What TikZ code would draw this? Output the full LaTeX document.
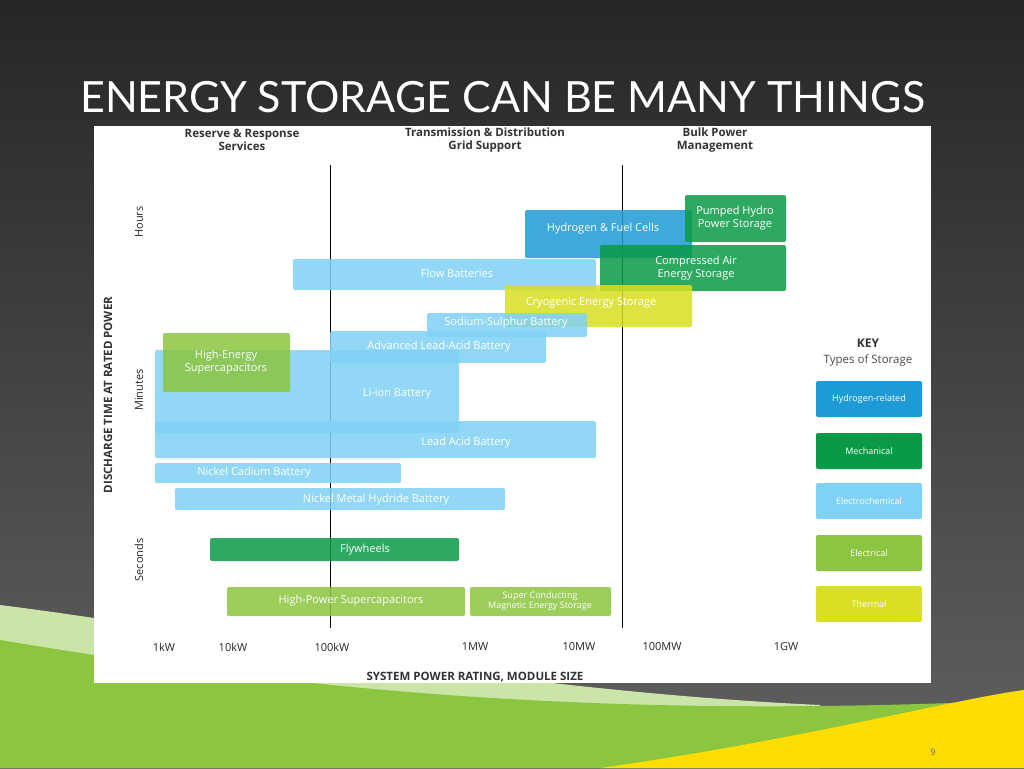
\documentclass[tikz,border=0pt]{standalone}
\usepackage{fontspec}
\setmainfont{Open Sans}
\newfontfamily\titlefont{Lato}
\begin{document}
\begin{tikzpicture}[x=1pt,y=-1pt,
  bx/.style={fill=#1,draw=none,fill opacity=0.85,rounded corners=2pt},
  lb/.style={text=white,font=\fontsize{11}{12.5}\selectfont,align=center,inner sep=0pt},
  hd/.style={text=black!80,font=\bfseries\fontsize{11.5}{13.5}\selectfont,align=center},
  ax/.style={text=black!85,font=\fontsize{11}{13}\selectfont}]
\definecolor{hyd}{HTML}{1E9AD6}\definecolor{mech}{HTML}{0A9A46}
\definecolor{elc}{HTML}{7FD2F5}\definecolor{ele}{HTML}{8CC53F}\definecolor{thm}{HTML}{D8E021}
\useasboundingbox (0,0) rectangle (1024,768);
\shade[top color=black!85,bottom color=black!62] (0,0) rectangle (1024,768);
\fill[ele!45!white] (0,605) .. controls (200,630) and (500,690) .. (820,705) -- (820,768) -- (0,768) -- cycle;
\fill[ele] (0,640) .. controls (300,690) and (600,720) .. (1024,700) -- (1024,768) -- (0,768) -- cycle;
\fill[yellow!80!orange] (600,768) .. controls (800,740) and (950,700) .. (1024,690) -- (1024,768) -- cycle;
\node[text=white,font=\titlefont\fontsize{43}{46}\selectfont,anchor=west,inner sep=0pt] (title) at (80,97) {ENERGY STORAGE CAN BE MANY THINGS};
\node[text=black!60,font=\fontsize{9}{10}\selectfont] (pg) at (933,752) {9};
\fill[white] (94,126) rectangle (931,683);
\node[hd] (h1) at (242,140) {Reserve \& Response\\Services};
\node[hd] (h2) at (485,140) {Transmission \& Distribution\\Grid Support};
\node[hd] (h3) at (715,140) {Bulk Power\\Management};
\draw[black,line width=1pt] (330,165) -- (330,628);
\draw[black,line width=1pt] (622,165) -- (622,628);
\foreach \n/\xx/\t in {a/164/1kW,b/233/10kW,c/332/100kW,d/475/1MW,e/579/10MW,f/662/100MW,g/786/1GW}
  \node[ax] (x\n) at (\xx,647) {\t};
\node[hd] (xt) at (475,677) {SYSTEM POWER RATING, MODULE SIZE};
\node[hd,rotate=90] (yt) at (108,395) {DISCHARGE TIME AT RATED POWER};
\node[ax,rotate=90] (yh) at (139,222) {Hours};
\node[ax,rotate=90] (ym) at (139,390) {Minutes};
\node[ax,rotate=90] (ys) at (139,560) {Seconds};
% boxes
\fill[bx=hyd] (525,210) rectangle (692,258);
\node[lb] (t1) at (603,229) {Hydrogen \& Fuel Cells};
\fill[bx=elc] (293,259) rectangle (596,290);
\node[lb] (t2) at (457,273) {Flow Batteries};
\fill[bx=mech] (685,195) rectangle (786,242);
\node[lb] (t3) at (735,218) {Pumped Hydro\\Power Storage};
\fill[bx=mech] (600,245) rectangle (786,291);
\node[lb] (t4) at (696,268) {Compressed Air\\Energy Storage};
\fill[bx=thm] (505,285) rectangle (692,327);
\node[lb] (t5) at (591,303) {Cryogenic Energy Storage};
\fill[bx=elc] (427,313) rectangle (587,337);
\node[lb] (t6) at (506,323) {Sodium-Sulphur Battery};
\fill[bx=elc] (330,331) rectangle (546,363);
\node[lb] (t7) at (439,347) {Advanced Lead-Acid Battery};
\fill[bx=elc] (155,350) rectangle (459,433);
\fill[bx=ele] (163,333) rectangle (290,392);
\node[lb] (t8) at (226,362) {High-Energy\\Supercapacitors};
\node[lb] (t9) at (397,394) {Li-ion Battery};
\fill[bx=elc] (155,421) rectangle (596,458);
\node[lb] (t10) at (466,443) {Lead Acid Battery};
\fill[bx=elc] (155,463) rectangle (401,483);
\node[lb] (t11) at (254,473) {Nickel Cadium Battery};
\fill[bx=elc] (175,488) rectangle (505,510);
\node[lb] (t12) at (376,500) {Nickel Metal Hydride Battery};
\fill[bx=mech] (210,538) rectangle (459,561);
\node[lb] (t13) at (365,550) {Flywheels};
\fill[bx=ele] (227,587) rectangle (465,616);
\node[lb] (t14) at (351,601) {High-Power Supercapacitors};
\fill[bx=ele] (470,587) rectangle (611,616);
\node[lb,font=\fontsize{9}{10.5}\selectfont] (t15) at (540,601) {Super Conducting\\Magnetic Energy Storage};
% key
\node[hd,font=\bfseries\fontsize{12}{13}\selectfont] (key) at (868,343) {KEY};
\node[ax,font=\fontsize{11.5}{13}\selectfont,text=black!70] (tos) at (868,360) {Types of Storage};
\foreach \c/\yy/\t in {hyd/381/Hydrogen-related,mech/433/Mechanical,elc/483/Electrochemical,ele/535/Electrical,thm/586/Thermal}{
  \fill[\c,rounded corners=2pt] (816,\yy) rectangle (922,\yy+36);
  \node[lb,font=\fontsize{9}{10}\selectfont] (k\c) at (869,\yy+18) {\t};}
\end{tikzpicture}
\end{document}
